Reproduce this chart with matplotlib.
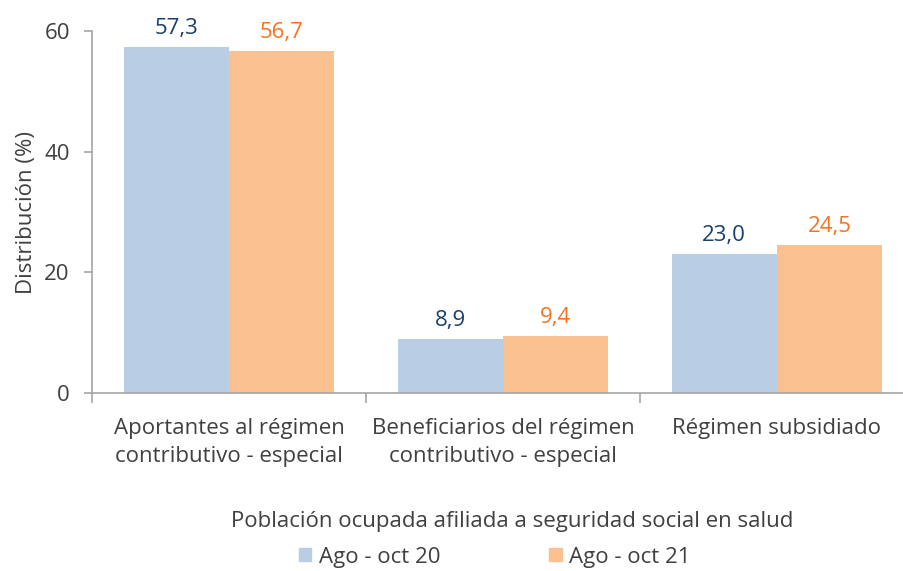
import numpy as np
import matplotlib.pyplot as plt
from matplotlib.patches import Patch

categorias = ["Aportantes al régimen\ncontributivo - especial",
              "Beneficiarios del régimen\ncontributivo - especial",
              "Régimen subsidiado"]
ago_oct_20 = [57.3, 8.9, 23.0]
ago_oct_21 = [56.7, 9.4, 24.5]
series = ["Ago - oct 20", "Ago - oct 21"]

plt.rcParams['font.family'] = ['Open Sans', 'DejaVu Sans']

azul = "#B9CDE5"
naranja = "#FAC090"
azul_txt = "#1B3F6B"
naranja_txt = "#F7721E"
gris = "#A6A6A6"
texto = "#404040"
fs = 16

fig = plt.figure(figsize=(9.04, 5.71), dpi=100)
ax = fig.add_axes([92 / 904, 1 - 393 / 571, 822 / 904, (393 - 31) / 571])

x = np.arange(len(categorias))
w = 0.385
b1 = ax.bar(x - w / 2, ago_oct_20, w, color=azul)
b2 = ax.bar(x + w / 2, ago_oct_21, w, color=naranja)

for barras, col in [(b1, azul_txt), (b2, naranja_txt)]:
    for b in barras:
        v = b.get_height()
        ax.annotate(f"{v:.1f}".replace(".", ","),
                    (b.get_x() + b.get_width() / 2, v),
                    xytext=(0, 6), textcoords="offset points",
                    ha="center", va="bottom", fontsize=fs, color=col)

ax.set_xlim(-0.5, 2.5)
ax.set_ylim(0, 60)
ax.set_yticks([0, 20, 40, 60])
ax.set_xticks([-0.5, 0.5, 1.5, 2.5])
ax.set_xticklabels([])
ax.set_xticks(x, minor=True)
ax.set_xticklabels(categorias, minor=True, fontsize=fs, color=texto,
                   linespacing=1.45)
ax.tick_params(axis="x", which="minor", length=0, pad=18)
ax.tick_params(axis="x", which="major", length=7, color=gris, width=1.2)
ax.tick_params(axis="y", length=6, color=gris, width=1.2, labelsize=fs,
               labelcolor=texto, pad=10)

for s in ["top", "right"]:
    ax.spines[s].set_visible(False)
for s in ["left", "bottom"]:
    ax.spines[s].set_color(gris)
    ax.spines[s].set_linewidth(1.2)

ax.set_ylabel("Distribución (%)", fontsize=fs, color=texto, labelpad=5)

fig.text(512 / 904, 1 - 522 / 571, "Población ocupada afiliada a seguridad social en salud",
         ha="center", va="center", fontsize=fs, color=texto)

handles = [Patch(color=azul), Patch(color=naranja)]
fig.legend(handles, series, loc="center", bbox_to_anchor=(495 / 904, 1 - 557 / 571),
           ncol=2, frameon=False, fontsize=fs, handlelength=0.55, handleheight=0.55,
           handletextpad=0.35, columnspacing=4.9, labelcolor=texto)

fig.savefig("out.png", dpi=100)
